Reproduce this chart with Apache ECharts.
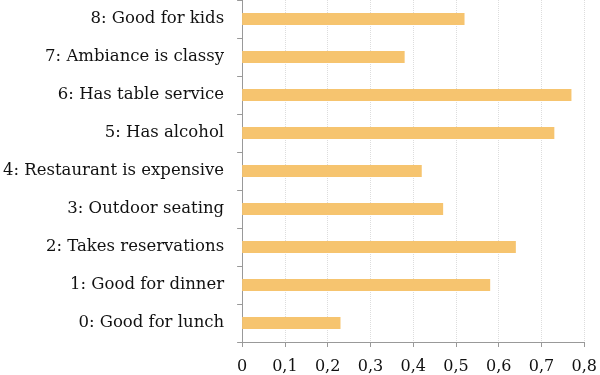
<!DOCTYPE html>
<html>
<head>
<meta charset="utf-8">
<script src="https://cdn.jsdelivr.net/npm/echarts@6/dist/echarts.min.js"></script>
<style>
  html, body { margin: 0; padding: 0; background: #fff; }
  #chart { width: 600px; height: 375px; }
</style>
</head>
<body>
<div id="chart"></div>
<script>
// categories bottom to top
var categories = [
  "0: Good for lunch",
  "1: Good for dinner",
  "2: Takes reservations",
  "3: Outdoor seating",
  "4: Restaurant is expensive",
  "5: Has alcohol",
  "6: Has table service",
  "7: Ambiance is classy",
  "8: Good for kids"
]
var values = [0.23, 0.58, 0.64, 0.47, 0.42, 0.73, 0.77, 0.38, 0.52]

var chart = echarts.init(document.getElementById("chart"))
var option = {
  animation: false,
  textStyle: { fontFamily: "DejaVu Serif" },
  grid: { left: 241, right: 13, top: 0, bottom: 33 },
  xAxis: {
    type: "value",
    min: 0,
    max: 0.8,
    interval: 0.1,
    axisLine: { show: true, lineStyle: { color: "#999" } },
    axisTick: { show: true, length: 5, lineStyle: { color: "#999" } },
    axisLabel: {
      color: "#111",
      fontSize: 16,
      margin: 17,
      formatter: function (v) {
        return String(Math.round(v * 10) / 10).replace(".", ",")
      }
    },
    splitLine: { show: true, lineStyle: { color: "#ddd", type: "dotted" } }
  },
  yAxis: {
    type: "category",
    data: categories,
    axisLine: { show: true, lineStyle: { color: "#999" } },
    axisTick: { show: true, length: 5, lineStyle: { color: "#999" } },
    axisLabel: { color: "#111", fontSize: 16.5, margin: 18 }
  },
  series: [{
    type: "bar",
    data: values,
    barWidth: 12,
    itemStyle: { color: "#f6c46f" }
  }]
}
chart.setOption(option)
</script>
</body>
</html>
